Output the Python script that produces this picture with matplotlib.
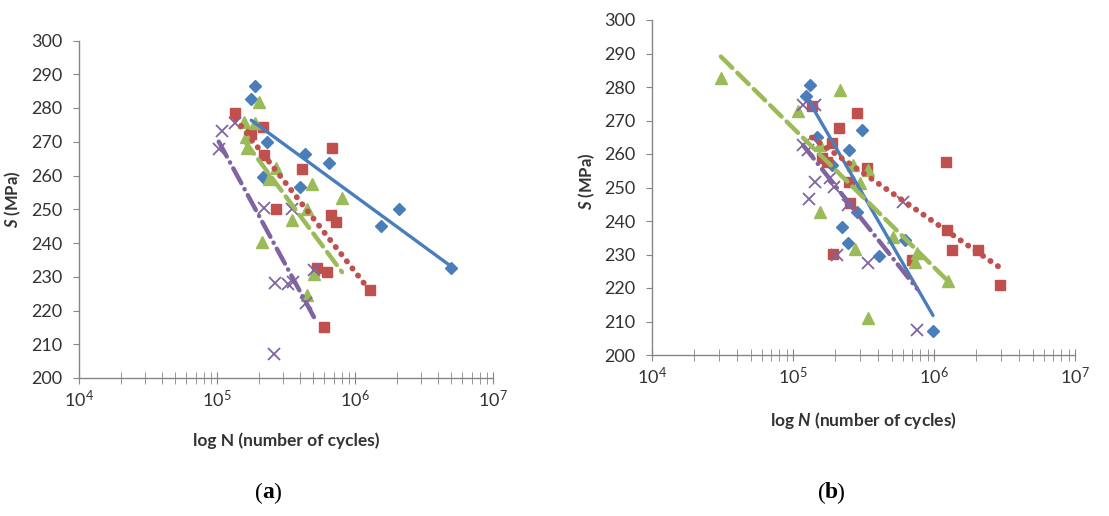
import numpy as np
import matplotlib
matplotlib.use('Agg')
import matplotlib.pyplot as plt
from matplotlib.ticker import LogLocator, MultipleLocator, NullFormatter

# fonts
plt.rcParams['font.family'] = ['Lato', 'DejaVu Sans']
plt.rcParams['mathtext.fontset'] = 'custom'
plt.rcParams['mathtext.rm'] = 'Lato'
plt.rcParams['mathtext.it'] = 'Lato:italic'
plt.rcParams['mathtext.bf'] = 'Lato:bold'
plt.rcParams['mathtext.bfit'] = 'Lato:italic:bold'

# --------------------------------------------------------------------------
# panel (a) data : N (cycles), S (MPa)
a_blue_N = [1.90e5, 1.77e5, 2.29e5, 4.37e5, 6.46e5, 2.14e5, 3.98e5, 2.08e6, 1.55e6, 5.0e6]
a_blue_S = [286.5, 282.6, 269.9, 266.4, 263.6, 259.6, 256.6, 250.0, 245.0, 232.6]
a_red_N = [1.36e5, 2.17e5, 1.77e5, 2.20e5, 6.82e5, 4.14e5, 2.69e5, 6.71e5, 7.29e5,
           5.32e5, 6.28e5, 1.28e6, 5.97e5]
a_red_S = [278.5, 274.4, 272.3, 266.0, 268.1, 261.9, 250.1, 248.3, 246.2,
           232.6, 231.4, 226.1, 215.1]
a_green_N = [2.0e5, 1.58e5, 1.87e5, 1.63e5, 1.66e5, 2.69e5, 2.39e5, 4.9e5, 8.05e5,
             4.5e5, 3.51e5, 2.13e5, 5.06e5, 4.5e5]
a_green_S = [281.8, 275.9, 275.6, 271.4, 268.1, 262.2, 259.0, 257.5, 253.3,
             250.1, 246.8, 240.3, 230.8, 224.6]
a_purple_N = [1.08e5, 1.03e5, 1.36e5, 2.20e5, 3.51e5, 5.06e5, 2.64e5, 3.28e5,
              3.57e5, 4.43e5, 2.60e5]
a_purple_S = [273.2, 267.9, 275.6, 250.4, 250.1, 232.0, 228.1, 227.8,
              228.4, 222.2, 207.1]

# panel (b) data
b_blue_N = [1.32e5, 1.24e5, 1.48e5, 3.08e5, 2.49e5, 1.89e5, 2.84e5, 2.23e5,
            2.46e5, 4.07e5, 6.22e5, 9.84e5]
b_blue_S = [280.6, 277.3, 265.1, 267.2, 261.2, 256.7, 242.7, 238.2,
            233.4, 229.6, 234.3, 207.2]
b_red_N = [1.36e5, 2.84e5, 2.12e5, 1.89e5, 1.61e5, 1.74e5, 3.35e5, 2.49e5,
           2.54e5, 1.92e5, 6.98e5, 1.22e6, 1.24e6, 1.34e6, 2.05e6, 2.94e6]
b_red_S = [274.3, 272.2, 267.8, 263.3, 258.8, 257.6, 255.8, 251.6,
           245.4, 230.1, 228.4, 257.6, 237.3, 231.3, 231.3, 220.9]
b_green_N = [3.08e4, 2.15e5, 1.08e5, 1.55e5, 2.67e5, 3.40e5, 2.99e5, 1.55e5,
             2.75e5, 3.40e5, 5.12e5, 7.57e5, 7.33e5, 1.26e6]
b_green_S = [282.7, 279.1, 272.8, 262.7, 256.7, 255.2, 251.3, 242.7,
             231.6, 211.0, 235.2, 230.4, 227.8, 222.1]
b_purple_N = [1.18e5, 1.43e5, 1.18e5, 1.28e5, 1.83e5, 1.43e5, 1.95e5, 1.30e5,
              2.46e5, 6.03e5, 2.05e5, 3.40e5, 7.57e5]
b_purple_S = [274.6, 274.6, 262.7, 261.2, 252.8, 251.6, 250.1, 246.6,
              244.8, 245.7, 229.9, 227.5, 207.5]

# log trendlines S = slope*log10(N) + icpt  (blue, red, green, purple)
a_fit_slope = [-29.9, -52.3, -55.0, -75.4]
a_fit_icpt = [433.3, 545.3, 556.2, 648.0]
b_fit_slope = [-72.7, -29.1, -41.6, -53.0]
b_fit_icpt = [647.5, 414.3, 475.8, 531.4]

# --------------------------------------------------------------------------
colors_ = ['#4a7ebb', '#c0504d', '#9bbb59', '#8064a2']
markers = ['D', 's', '^', 'x']
msizes = [6.5, 7.5, 8, 8]
lstyles = ['-', (0, (0.05, 1.5)), (0, (3.6, 1.6)), (0, (3.8, 1.5, 0.05, 1.5))]
lwidths = [2.4, 4.2, 3.2, 3.2]
grey = '#868686'


def draw_panel(ax, series, slopes, icpts, italic_N):
    for i, (N, S) in enumerate(series):
        N = np.array(N)
        if markers[i] == 'x':
            ax.plot(N, S, ls='none', marker='x', ms=msizes[i], mew=1.3,
                    color=colors_[i], zorder=2)
        else:
            ax.plot(N, S, ls='none', marker=markers[i], ms=msizes[i],
                    color=colors_[i], mec=colors_[i], zorder=2)
    # trendlines over the data range
    for i, (N, S) in enumerate(series):
        xx = np.logspace(np.log10(min(N)), np.log10(max(N)), 50)
        yy = slopes[i]*np.log10(xx) + icpts[i]
        ax.plot(xx, yy, ls=lstyles[i], lw=lwidths[i], color=colors_[i],
                solid_capstyle='round', dash_capstyle='round', zorder=3)

    ax.set_xscale('log')
    ax.set_xlim(1e4, 1e7)
    ax.set_ylim(200, 300)
    ax.yaxis.set_major_locator(MultipleLocator(10))
    ax.xaxis.set_major_locator(LogLocator(base=10, numticks=10))
    ax.xaxis.set_minor_locator(LogLocator(base=10, subs=np.arange(2, 10), numticks=20))
    ax.xaxis.set_minor_formatter(NullFormatter())

    for s in ['top', 'right']:
        ax.spines[s].set_visible(False)
    for s in ['left', 'bottom']:
        ax.spines[s].set_color(grey)
        ax.spines[s].set_linewidth(1.0)
    ax.tick_params(axis='y', direction='out', length=4, color=grey,
                   labelsize=13, labelcolor='#333333', pad=8)
    ax.tick_params(axis='x', which='both', direction='inout', length=8,
                   color=grey, labelsize=13, labelcolor='#333333', pad=4)

    ax.set_ylabel(r'$\mathbfit{S}$ (MPa)', fontsize=12, fontweight='bold', color='#333333')
    if italic_N:
        ax.set_xlabel(r'log $\mathbfit{N}$ (number of cycles)', fontsize=12.5,
                      fontweight='bold', color='#333333')
    else:
        ax.set_xlabel('log N (number of cycles)', fontsize=12.5,
                      fontweight='bold', color='#333333')


fig = plt.figure(figsize=(11.09, 5.16), dpi=100)
W, H = 1109.0, 516.0
ax1 = fig.add_axes([79/W, 1 - 378/H, 414/W, 337.5/H])
ax2 = fig.add_axes([652/W, 1 - 355/H, 423/W, 335/H])

draw_panel(ax1, [(a_blue_N, a_blue_S), (a_red_N, a_red_S),
                 (a_green_N, a_green_S), (a_purple_N, a_purple_S)],
           a_fit_slope, a_fit_icpt, False)
draw_panel(ax2, [(b_blue_N, b_blue_S), (b_red_N, b_red_S),
                 (b_green_N, b_green_S), (b_purple_N, b_purple_S)],
           b_fit_slope, b_fit_icpt, True)

ax1.yaxis.set_label_coords(-0.135, 0.53)
ax1.xaxis.set_label_coords(0.5, -0.16)
ax2.yaxis.set_label_coords(-0.13, 0.52)
ax2.xaxis.set_label_coords(0.5, -0.165)

# captions (a) (b)
for cx, letter in [(268, 'a'), (831, 'b')]:
    y = 1 - 493/H
    fig.text((cx - 5)/W, y, '(', ha='right', va='center', fontsize=17,
             family='Liberation Serif')
    fig.text(cx/W, y, letter, ha='center', va='center', fontsize=17,
             family='Liberation Serif', fontweight='bold')
    fig.text((cx + 5)/W, y, ')', ha='left', va='center', fontsize=17,
             family='Liberation Serif')

fig.savefig('out.png', dpi=100)
